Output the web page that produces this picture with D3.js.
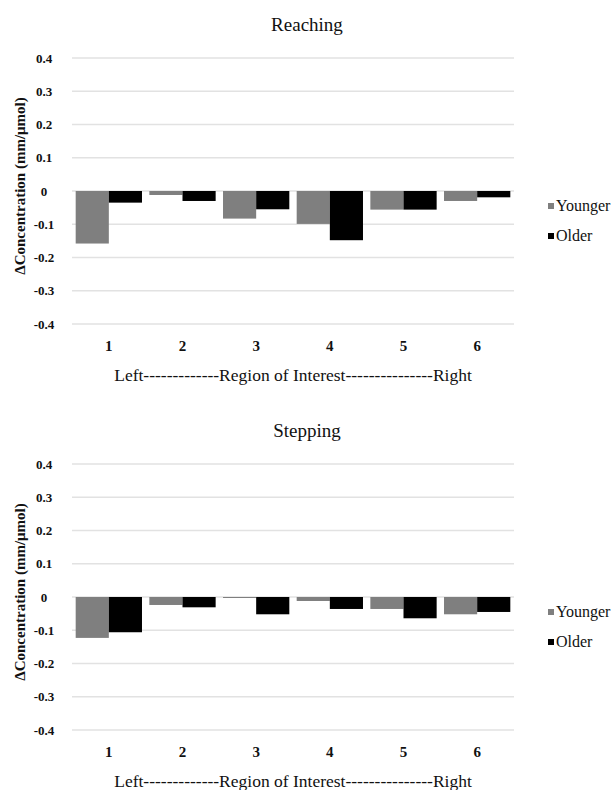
<!DOCTYPE html>
<html>
<head>
<meta charset="utf-8">
<script src="https://cdn.jsdelivr.net/npm/d3@7"></script>
<style>
  html, body { margin: 0; padding: 0; background: #fff; }
  svg { display: block; }
</style>
</head>
<body>
<svg id="chart" width="612" height="790"></svg>
<script>
// ---- data ----
const categories = ["1", "2", "3", "4", "5", "6"];
const seriesNames = ["Younger", "Older"];
const reachingYounger = [-0.158, -0.012, -0.083, -0.099, -0.056, -0.030];
const reachingOlder   = [-0.035, -0.030, -0.055, -0.148, -0.056, -0.019];
const steppingYounger = [-0.123, -0.024, -0.003, -0.012, -0.036, -0.052];
const steppingOlder   = [-0.106, -0.031, -0.052, -0.036, -0.064, -0.045];
const yTicks = [0.4, 0.3, 0.2, 0.1, 0, -0.1, -0.2, -0.3, -0.4];
const tickLabels = ["0.4", "0.3", "0.2", "0.1", "0", "-0.1", "-0.2", "-0.3", "-0.4"];
const titles = ["Reaching", "Stepping"];
const yTitle = "\u0394Concentration (mm/\u03bcmol)";
const xTitle = "Left-------------Region of Interest---------------Right";

const colors = { Younger: "#7f7f7f", Older: "#000000" };
const FONT = "'Liberation Serif', 'Times New Roman', Times, serif";

const svg = d3.select("#chart").style("font-family", FONT);

function drawPanel(title, younger, older, top) {
  const g = svg.append("g").attr("font-family", FONT).attr("fill", "#111");
  const x0 = d3.scaleBand().domain(categories).range([72, 514]).paddingInner(0.1).paddingOuter(0.05);
  const x1 = d3.scaleBand().domain(seriesNames).range([0, x0.bandwidth()]);
  const y = d3.scaleLinear().domain([-0.4, 0.4]).range([top + 266, top]);

  g.append("text").attr("x", 307).attr("y", top - 27)
    .attr("text-anchor", "middle").attr("font-size", 19).text(title);

  g.selectAll("line.grid").data(yTicks).enter().append("line")
    .attr("x1", 72).attr("x2", 514)
    .attr("y1", d => y(d)).attr("y2", d => y(d))
    .attr("stroke", "#e2e2e2").attr("stroke-width", 1.6);

  g.selectAll("text.ytick").data(yTicks).enter().append("text")
    .attr("x", 44).attr("y", d => y(d) + 4.5)
    .attr("text-anchor", "middle").attr("font-size", 13).attr("font-weight", "bold")
    .text((d, i) => tickLabels[i]);

  const rows = categories.map((c, i) => ({ c, vals: [
    { s: "Younger", v: younger[i] }, { s: "Older", v: older[i] } ] }));
  const grp = g.selectAll("g.cat").data(rows).enter().append("g")
    .attr("transform", d => `translate(${x0(d.c)},0)`);
  grp.selectAll("rect").data(d => d.vals).enter().append("rect")
    .attr("x", d => x1(d.s)).attr("width", x1.bandwidth())
    .attr("y", d => Math.min(y(0), y(d.v)))
    .attr("height", d => Math.abs(y(d.v) - y(0)))
    .attr("fill", d => colors[d.s]);

  g.selectAll("text.cat").data(categories).enter().append("text")
    .attr("x", d => x0(d) + x0.bandwidth() / 2).attr("y", top + 293)
    .attr("text-anchor", "middle").attr("font-size", 15).attr("font-weight", "bold")
    .text(d => d);

  g.append("text").attr("x", 293).attr("y", top + 323)
    .attr("text-anchor", "middle").attr("font-size", 17.5).text(xTitle);

  g.append("text")
    .attr("transform", `translate(25,${y(0) - 5}) rotate(-90)`)
    .attr("text-anchor", "middle").attr("font-size", 15).attr("font-weight", "bold")
    .text(yTitle);

  const leg = g.selectAll("g.leg").data(seriesNames).enter().append("g")
    .attr("transform", (d, i) => `translate(548,${y(0) + 15 + i * 30})`);
  leg.append("rect").attr("x", 0).attr("y", -3).attr("width", 6).attr("height", 6)
    .attr("fill", d => colors[d]);
  leg.append("text").attr("x", 8).attr("y", 5).attr("font-size", 16).text(d => d);
}

drawPanel(titles[0], reachingYounger, reachingOlder, 58);
drawPanel(titles[1], steppingYounger, steppingOlder, 464);
</script>
</body>
</html>
